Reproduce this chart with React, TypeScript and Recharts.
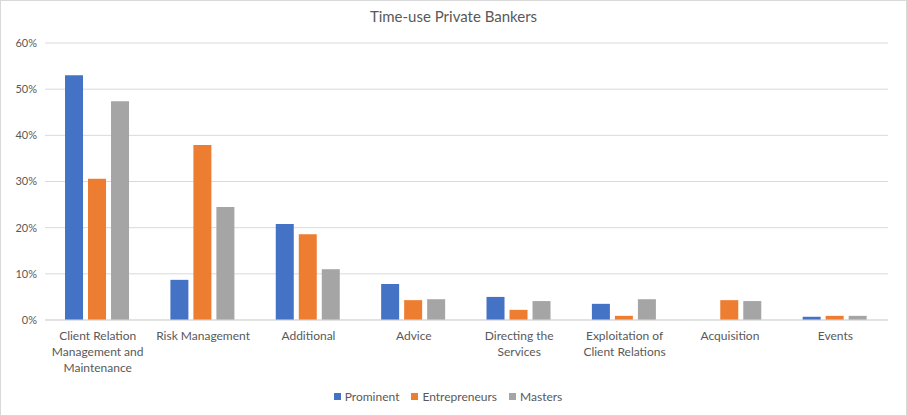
import { Bar, BarChart, CartesianGrid, Legend, XAxis, YAxis } from "recharts";

const categories = [
  "Client Relation Management and Maintenance",
  "Risk Management",
  "Additional",
  "Advice",
  "Directing the Services",
  "Exploitation of Client Relations",
  "Acquisition",
  "Events",
];

// how the axis labels wrap in the original
const tickLines = [
  ["Client Relation", "Management and", "Maintenance"],
  ["Risk Management"],
  ["Additional"],
  ["Advice"],
  ["Directing the", "Services"],
  ["Exploitation of", "Client Relations"],
  ["Acquisition"],
  ["Events"],
];

const prominent = [53, 8.7, 20.8, 7.8, 5.0, 3.5, 0, 0.7];
const entrepreneurs = [30.6, 37.9, 18.6, 4.3, 2.2, 0.9, 4.3, 0.9];
const masters = [47.4, 24.5, 11.0, 4.5, 4.1, 4.5, 4.1, 0.9];

const seriesNames = ["Prominent", "Entrepreneurs", "Masters"];
const seriesColors = ["#4472c4", "#ed7d31", "#a5a5a5"];

const yTicks = [0, 10, 20, 30, 40, 50, 60];

const TEXT = "#595959";
const FONT = "Lato, 'Open Sans', sans-serif";

const data = categories.map((name, i) => ({
  name,
  Prominent: prominent[i],
  Entrepreneurs: entrepreneurs[i],
  Masters: masters[i],
}));

function CategoryTick({ x, y, payload }: any) {
  const lines = tickLines[payload.index] ?? [String(payload.value)];
  return (
    <text x={x} y={y} textAnchor="middle" fill={TEXT} fontSize={12} fontFamily={FONT}>
      {lines.map((line, i) => (
        <tspan key={i} x={x} dy={i === 0 ? 12 : 16}>
          {line}
        </tspan>
      ))}
    </text>
  );
}

function LegendContent() {
  return (
    <div style={{ display: "flex", justifyContent: "center", gap: 12, fontSize: 12, color: TEXT, paddingTop: 3 }}>
      {seriesNames.map((name, i) => (
        <span key={name} style={{ display: "flex", alignItems: "center" }}>
          <span style={{ width: 7, height: 7, background: seriesColors[i], marginRight: 4, display: "inline-block" }} />
          {name}
        </span>
      ))}
    </div>
  );
}

export default function App() {
  return (
    <div
      style={{
        position: "fixed",
        top: 0,
        left: 0,
        width: 907,
        height: 416,
        background: "#fff",
        border: "1px solid #d9d9d9",
        boxSizing: "border-box",
        fontFamily: FONT,
      }}
    >
      <div
        style={{
          position: "absolute",
          top: 6,
          width: "100%",
          textAlign: "center",
          fontSize: 15,
          color: TEXT,
        }}
      >
        Time-use Private Bankers
      </div>
      <div style={{ position: "absolute", top: -1, left: -1 }}>
        <BarChart
          width={907}
          height={416}
          data={data}
          margin={{ top: 43, right: 19, left: 8, bottom: 10 }}
          barCategoryGap="19%"
          barGap={5}
        >
          <CartesianGrid vertical={false} stroke="#d9d9d9" />
          <XAxis
            dataKey="name"
            interval={0}
            height={66}
            tick={<CategoryTick />}
            tickLine={false}
            axisLine={{ stroke: "#d9d9d9" }}
          />
          <YAxis
            width={37}
            domain={[0, 60]}
            ticks={yTicks}
            tickFormatter={(v) => `${v}%`}
            tick={{ fill: TEXT, fontSize: 11, fontFamily: FONT }}
            tickLine={false}
            axisLine={false}
          />
          <Legend verticalAlign="bottom" height={20} content={<LegendContent />} />
          {seriesNames.map((name, i) => (
            <Bar key={name} dataKey={name} fill={seriesColors[i]} isAnimationActive={false} />
          ))}
        </BarChart>
      </div>
    </div>
  );
}
